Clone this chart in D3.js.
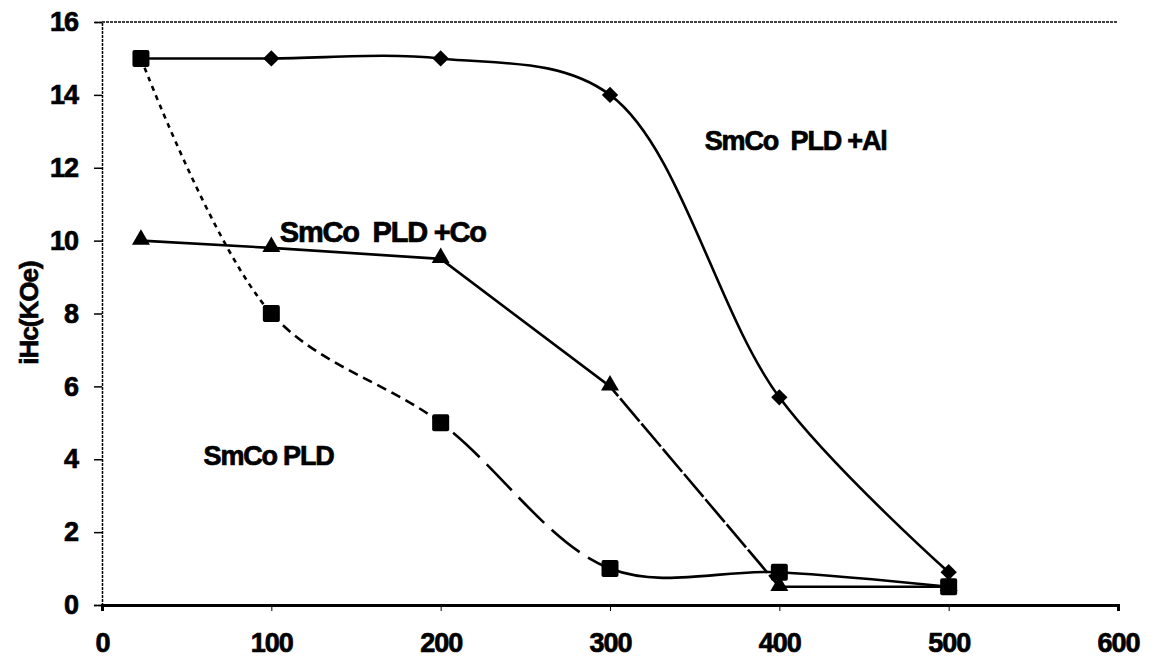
<!DOCTYPE html>
<html>
<head>
<meta charset="utf-8">
<script src="https://cdn.jsdelivr.net/npm/d3@7"></script>
<style>
  body { margin: 0; background: #fff; }
  text { font-family: "Liberation Sans", Arial, sans-serif; font-weight: bold; fill: #000; stroke: #000; stroke-width: 0.7px; }
</style>
</head>
<body>
<script>
// data
var temps = [23, 100, 200, 300, 400, 500];
var hcAl = [15, 15, 15, 14, 5.7, 0.9];
var hcCo = [10, 9.8, 9.5, 6, 0.5, 0.5];
var hcPld = [15, 8, 5, 1, 0.9, 0.5];
var xTicks = [0, 100, 200, 300, 400, 500, 600];
var yTicks = [0, 2, 4, 6, 8, 10, 12, 14, 16];

var width = 1155, height = 660;

var x = d3.scaleLinear().domain([0, 600]).range([102, 1118]);
var y = d3.scaleLinear().domain([0, 16]).range([605, 22]);

var svg = d3.select("body").append("svg")
    .attr("width", width)
    .attr("height", height);

var defs = svg.append("defs");

// top frame line (dotted)
svg.append("line")
    .attr("x1", x(0)).attr("x2", x(600))
    .attr("y1", y(16)).attr("y2", y(16))
    .attr("stroke", "#000").attr("stroke-width", 1.5)
    .attr("stroke-dasharray", "3,1");

// y axis
var yAxis = d3.axisLeft(y).tickValues(yTicks).tickSize(8).tickPadding(16);
var gy = svg.append("g")
    .attr("transform", "translate(" + x(0) + ",0)")
    .call(yAxis);
gy.select(".domain").attr("stroke-width", 1.5).attr("stroke-dasharray", "3,1");
gy.selectAll(".tick line").attr("stroke-width", 1.5);
gy.selectAll(".tick text").style("font-size", "27px").style("letter-spacing", "-1px");

// x axis
var xAxis = d3.axisBottom(x).tickValues(xTicks).tickSize(6).tickPadding(22);
var gx = svg.append("g")
    .attr("transform", "translate(0," + y(0) + ")")
    .call(xAxis);
gx.select(".domain").attr("stroke-width", 3);
gx.selectAll(".tick line").attr("stroke-width", 1);
gx.selectAll(".tick text").style("font-size", "27px").style("letter-spacing", "-1px");

// y title
svg.append("text")
    .attr("transform", "translate(38,313) rotate(-90)")
    .attr("text-anchor", "middle")
    .style("font-size", "26px")
    .style("letter-spacing", "-1px")
    .text("iHc(KOe)");

function pts(vals) {
  return temps.map(function(t, i) { return [t, vals[i]]; });
}

var smooth = d3.line()
    .x(function(d) { return x(d[0]); })
    .y(function(d) { return y(d[1]); })
    .curve(d3.curveCatmullRom.alpha(0.5));

var straight = d3.line()
    .x(function(d) { return x(d[0]); })
    .y(function(d) { return y(d[1]); });

// draw a series piecewise, one dash style per segment, using x clips
function drawSeries(name, data, gen, dashes) {
  var g = svg.append("g");
  dashes.forEach(function(da, i) {
    var id = "clip-" + name + "-" + i;
    defs.append("clipPath").attr("id", id)
      .append("rect")
        .attr("x", x(data[i][0]))
        .attr("y", 0)
        .attr("width", x(data[i + 1][0]) - x(data[i][0]))
        .attr("height", height);
    g.append("path")
        .attr("d", gen(data))
        .attr("clip-path", "url(#" + id + ")")
        .attr("fill", "none")
        .attr("stroke", "#000")
        .attr("stroke-width", 2.6)
        .attr("stroke-dasharray", da);
  });
  return g;
}

var alData = pts(hcAl), coData = pts(hcCo), pldData = pts(hcPld);

drawSeries("al", alData, smooth, ["none", "none", "none", "none", "none"]);
drawSeries("co", coData, straight, ["none", "none", "none", "30,3", "none"]);
drawSeries("pld", pldData, smooth, ["5,5", "10,6", "36,10", "none", "none"]);

// markers
svg.selectAll(".pt-pld").data(pldData).enter().append("rect")
    .attr("class", "pt-pld")
    .attr("x", function(d) { return x(d[0]) - 8.5; })
    .attr("y", function(d) { return y(d[1]) - 8.5; })
    .attr("width", 17).attr("height", 17)
    .attr("rx", 2)
    .attr("fill", "#000");

svg.selectAll(".pt-al").data(alData).enter().append("path")
    .attr("class", "pt-al")
    .attr("d", d3.symbol().type(d3.symbolDiamond2).size(170))
    .attr("transform", function(d) { return "translate(" + x(d[0]) + "," + y(d[1]) + ")"; })
    .attr("fill", "#000");

svg.selectAll(".pt-co").data(coData).enter().append("path")
    .attr("class", "pt-co")
    .attr("d", d3.symbol().type(d3.symbolTriangle).size(140))
    .attr("transform", function(d) { return "translate(" + x(d[0]) + "," + (y(d[1]) - 1) + ")"; })
    .attr("fill", "#000");

// series labels
var labels = [
  {text: "SmCo\u00a0\u00a0PLD +Al", lx: 356, ly: 12.5, fs: 27},
  {text: "SmCo\u00a0\u00a0PLD +Co", lx: 105, ly: 9.96, fs: 29},
  {text: "SmCo PLD", lx: 60, ly: 3.84, fs: 27}
];
svg.selectAll(".lbl").data(labels).enter().append("text")
    .attr("class", "lbl")
    .attr("x", function(d) { return x(d.lx); })
    .attr("y", function(d) { return y(d.ly); })
    .style("font-size", function(d) { return d.fs + "px"; })
    .style("letter-spacing", "-1.2px")
    .text(function(d) { return d.text; });
</script>
</body>
</html>
